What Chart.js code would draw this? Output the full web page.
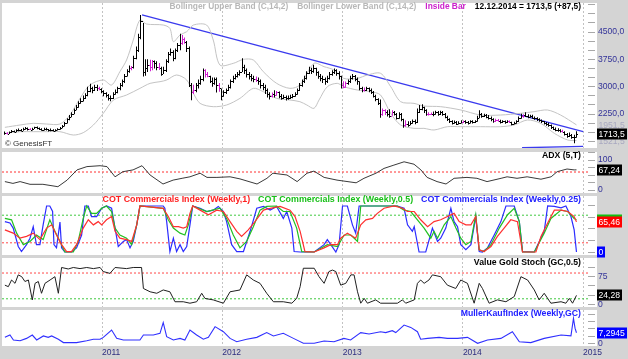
<!DOCTYPE html>
<html>
<head>
<meta charset="utf-8">
<script src="https://cdn.jsdelivr.net/npm/chart.js@4.4.1/dist/chart.umd.min.js"></script>
<style>
  body { margin: 0; background: #d4d4d4; }
  #wrap { position: relative; width: 628px; height: 359px; overflow: hidden; background: #d4d4d4; }
  #wrap canvas { position: absolute; left: 0; top: 0; }
</style>
</head>
<body>
<div id="wrap">
  <canvas id="price" width="628" height="359"></canvas>
  <canvas id="adx" width="628" height="359"></canvas>
  <canvas id="cot" width="628" height="359"></canvas>
  <canvas id="stoch" width="628" height="359"></canvas>
  <canvas id="mueller" width="628" height="359"></canvas>
</div>
<script>
// weekly bars, week 0 = 12.03.2010, last week = 12.12.2014
const startDate = Date.UTC(2010, 2, 12);
const years = [2011, 2012, 2013, 2014, 2015];

const weeklyHigh = [
  1770,1750,1770,1810,1800,1830,1850,1840,1870,1890,
  1880,1860,1870,1900,1910,1880,1860,1870,1870,1840,
  1850,1830,1830,1860,1890,1950,2030,2130,2220,2300,
  2400,2500,2600,2680,2760,2820,3000,3080,3000,3050,
  3050,3000,2960,2900,2850,2800,2760,2850,2920,3000,
  3100,3200,3350,3480,3580,3570,3850,4100,4450,4966,
  4750,3750,3750,3740,3730,3720,3700,3650,3550,3550,
  3750,3950,4050,4000,4050,4200,4450,4420,4350,4250,
  4100,3100,3050,3100,3200,3300,3500,3480,3400,3300,
  3250,3250,3250,3100,2950,2900,2950,3050,3200,3300,
  3350,3400,3450,3777,3600,3500,3400,3350,3300,3280,
  3250,3200,3100,3050,2950,2850,2840,2900,2880,2870,
  2800,2780,2760,2760,2780,2800,2850,2950,3100,3200,
  3300,3420,3550,3520,3600,3520,3420,3350,3300,3250,
  3300,3400,3450,3500,3480,3420,3300,3150,3140,3200,
  3300,3350,3320,3250,3150,3000,2980,3000,2980,2950,
  2880,2780,2680,2650,2400,2380,2350,2380,2350,2330,
  2280,2300,2280,2120,2080,2050,2060,2100,2100,2400,
  2500,2520,2450,2380,2300,2290,2320,2340,2330,2340,
  2330,2280,2200,2130,2080,2070,2060,2050,2080,2070,
  2080,2060,2080,2080,2080,2200,2350,2280,2260,2250,
  2220,2180,2130,2120,2110,2090,2080,2070,2080,2070,
  2040,2040,2080,2180,2260,2240,2300,2240,2230,2230,
  2180,2160,2130,2100,2060,2030,2010,1960,1910,1880,
  1860,1830,1820,1780,1730,1740,1700,1680,1780
];
const weeklyLow = [
  1680,1690,1700,1730,1740,1750,1780,1770,1790,1820,
  1800,1810,1800,1840,1830,1810,1790,1800,1800,1770,
  1780,1770,1770,1800,1820,1860,1910,1990,2080,2160,
  2240,2350,2420,2530,2590,2660,2740,2850,2820,2880,
  2880,2900,2820,2740,2700,2620,2600,2660,2780,2820,
  2900,3000,3100,3280,3380,3450,3500,3750,3950,4300,
  3280,3300,3400,3420,3450,3500,3450,3460,3300,3350,
  3400,3650,3850,3700,3750,3950,4000,4150,4180,3950,
  2990,2630,2800,2850,2950,3050,3150,3250,3260,3100,
  3000,3050,2840,2860,2630,2720,2800,2880,2950,3100,
  3200,3250,3300,3400,3350,3250,3200,3150,3120,3130,
  3050,2950,2900,2800,2700,2650,2700,2700,2750,2680,
  2640,2660,2620,2640,2660,2680,2720,2780,2880,3000,
  3100,3200,3350,3350,3380,3300,3220,3150,3100,3050,
  3100,3200,3300,3350,3300,3200,2950,2960,2970,3050,
  3100,3200,3150,3050,2900,2850,2870,2880,2850,2800,
  2700,2600,2500,2150,2200,2220,2180,2150,2200,2210,
  2100,2120,2050,1870,1900,1900,1940,1980,1970,2000,
  2280,2350,2280,2200,2210,2220,2190,2230,2200,2220,
  2200,2130,2060,2000,1960,1980,1950,1960,1990,2000,
  1980,1960,1990,1990,2000,2040,2130,2150,2170,2130,
  2100,2050,2010,2030,2040,1990,2000,1980,2000,2005,
  1940,1960,1980,2030,2120,2150,2170,2130,2150,2120,
  2090,2060,2040,2000,1960,1930,1900,1840,1810,1780,
  1760,1740,1745,1660,1600,1620,1570,1445,1600
];
const weeklyClose = [
  1720,1700,1750,1780,1760,1800,1820,1790,1840,1860,
  1830,1810,1850,1880,1870,1840,1820,1850,1830,1800,
  1820,1790,1810,1830,1860,1920,2000,2100,2180,2260,
  2370,2450,2560,2620,2700,2760,2880,2950,2900,2980,
  2960,2930,2880,2820,2760,2700,2680,2800,2850,2950,
  3050,3150,3300,3420,3500,3530,3800,4000,4350,4800,
  3400,3500,3600,3550,3700,3650,3550,3500,3350,3450,
  3700,3900,3950,3800,4000,4150,4200,4300,4220,4050,
  3050,2850,2900,3050,3100,3200,3450,3350,3300,3150,
  3100,3200,3050,2950,2750,2850,2900,3000,3150,3250,
  3300,3350,3400,3550,3450,3350,3300,3250,3200,3180,
  3150,3050,3000,2900,2800,2750,2800,2780,2850,2750,
  2700,2720,2680,2700,2720,2750,2800,2900,3050,3150,
  3250,3380,3450,3420,3500,3400,3300,3250,3200,3150,
  3250,3350,3400,3450,3380,3300,3050,3000,3100,3150,
  3250,3300,3200,3150,2950,2900,2920,2950,2900,2850,
  2750,2650,2550,2250,2350,2300,2250,2200,2300,2250,
  2150,2250,2100,1950,1980,1960,2000,2050,2020,2300,
  2400,2450,2350,2250,2240,2250,2250,2300,2250,2300,
  2250,2180,2100,2050,2000,2020,1980,2000,2030,2050,
  2020,2000,2050,2020,2050,2150,2250,2200,2230,2180,
  2150,2100,2050,2080,2060,2030,2050,2020,2050,2020,
  1980,2000,2050,2150,2200,2220,2200,2180,2200,2150,
  2130,2100,2080,2050,2000,1980,1950,1880,1850,1820,
  1800,1780,1760,1700,1650,1680,1620,1626,1713.5
];
const insideBarWeeks = [1, 11, 41, 55, 63, 64, 67, 77, 78, 82, 87, 88, 93, 109, 116, 118, 147, 148, 156, 164, 165, 168, 174, 184, 185, 199, 213, 214, 219, 225, 242];

// [week, value]
const upperBand = [[0,1884],[6.6,1948],[12.3,1994],[18.1,1975],[23.9,1975],[28.2,2222],[32.6,2680],[36.9,3046],[42.7,3183],[46.3,3046],[49.9,3412],[52.8,3732],[55.7,4280],[58.6,4829],[61.5,4719],[68.7,4692],[71.6,4600],[73.1,4235],[76,4418],[78.9,4509],[81.8,4692],[87.5,4692],[90.4,4280],[93.3,3594],[99.1,3640],[103.5,3750],[107.8,3732],[112.1,3412],[117.9,3091],[123.7,2954],[128,3046],[134.1,3640],[138.5,3549],[142.8,3457],[146.9,3229],[152.9,3229],[157.3,3320],[163,3366],[167.4,3000],[171.7,2588],[177.5,2542],[181.8,2469],[189.1,2451],[197.8,2360],[206.4,2222],[215.1,2222],[223.8,2268],[229.6,2314],[235.4,2360],[241.1,2222],[248,1951.5]];
const lowerBand = [[0,1719],[6.6,1765],[12.3,1765],[18.1,1765],[23.9,1765],[29.7,1673],[34,1738],[38.4,1948],[42.7,2268],[47.1,2634],[52.8,2771],[58.6,2954],[63,3091],[67.3,3137],[70.2,3183],[74.5,3320],[78.9,3183],[81.8,2817],[84.7,2542],[90.4,2451],[96.2,2497],[102,2680],[107.8,2954],[112.1,2863],[117.9,2680],[123.7,2634],[128,2588],[131,2497],[134.1,2405],[136.3,2634],[139.9,3000],[144.2,3091],[147.1,3000],[152.9,2908],[158.7,2863],[163,2771],[167.4,2268],[171.7,1948],[177.5,1856],[181.8,1856],[186.2,1811],[192,1902],[197.8,1902],[206.4,1902],[215.1,1902],[220.9,1948],[226.7,2085],[232.5,1994],[238.4,1719],[244.2,1536],[248,1521.5]];
const trendLine = [[59.5,4967],[250.9,1764]];
const supportLine = [[224.4,1325],[250.9,1360]];

const adxLine = [[0,28],[3.5,22],[6.6,28],[10.9,19],[16.5,19],[23,11],[27,33],[31.3,67],[35.6,78],[41.3,81],[44.3,78],[47.8,44],[51.2,61],[55.6,67],[59.5,81],[63,50],[68.6,20],[73,33],[76.9,39],[80.3,44],[84.7,56],[87.7,42],[92,42],[97.7,44],[102,37],[109.4,20],[113.7,39],[116.3,56],[122.4,50],[126.8,28],[131.1,56],[134.1,63],[138.5,42],[144.1,33],[152.4,24],[155.8,39],[161,56],[164.5,72],[168.8,83],[173.2,94],[177.5,86],[180.5,67],[183.2,42],[187.5,28],[191.4,20],[194.9,39],[200.5,42],[204.8,39],[209.2,28],[215.3,39],[217.9,44],[222.2,39],[226.6,44],[232.6,36],[237,44],[239.6,61],[243.9,70],[247,67],[248,67.24]];

const cotWeekly1 = [[0,48],[3.6,41],[6.5,30],[9.4,34],[12.3,41],[15.2,27],[18.1,52],[20.3,59],[22.4,37],[24.6,16],[26.8,1],[28.9,1],[31.1,16],[34,52],[36.2,70],[38.4,59],[40.5,66],[42,59],[44.1,70],[46.3,77],[47.8,45],[49.9,30],[52.8,27],[55,23],[57.2,59],[58.6,100],[68.7,95],[70.9,77],[73.1,55],[75.3,55],[77.4,52],[78.9,55],[80.3,84],[81.5,100],[84.7,91],[88.3,81],[91.9,91],[94.8,88],[97.7,66],[100.6,45],[102.7,34],[105.6,48],[108.5,66],[112.2,91],[115.1,95],[119.4,99],[123.7,91],[125.9,77],[128.1,45],[130.2,1],[134.2,0],[138.5,9],[141.4,16],[144.3,16],[145.7,30],[148.6,41],[152.2,30],[154.4,59],[156.6,70],[159.5,73],[161.6,84],[164.5,95],[168.9,100],[172.5,95],[174.7,88],[177.6,88],[180.4,70],[183.4,55],[186.2,66],[189.1,70],[192,77],[194.9,84],[197.1,66],[200,59],[202.2,59],[204.3,77],[205.8,5],[207.9,1],[210.9,12],[213.7,34],[216.6,52],[219.5,70],[222.4,66],[224.6,0],[230.4,0],[232.6,34],[235.5,63],[238.4,91],[241.3,91],[244.2,88],[247,77],[248,65.46]];
const cotWeekly05 = [[0,73],[2.9,70],[5.1,41],[8,16],[10.9,23],[13.7,37],[16.6,27],[19.5,70],[21.7,45],[24.6,16],[26,0],[29.7,0],[31.8,23],[34,73],[35.5,100],[37.6,84],[39.8,84],[42,95],[44.1,100],[46.3,88],[47.8,52],[49.9,37],[52.8,30],[55,16],[57.2,59],[58.6,100],[68.7,95],[70.9,70],[73.1,52],[76,41],[78.1,37],[79.6,59],[81.5,100],[87.6,88],[93.3,95],[96.2,73],[99.1,37],[102,9],[104.9,23],[107.8,55],[110.7,91],[113.6,99],[117.9,100],[120.8,88],[123.7,88],[126.6,52],[128.8,1],[134.2,0],[139.9,16],[144.3,12],[147.2,37],[150.1,37],[153,23],[154.4,100],[170.3,100],[173.2,91],[176.1,88],[179,70],[181.9,52],[184.8,30],[186.2,45],[187.7,30],[190.6,59],[193.5,77],[195.7,52],[197.8,30],[200,16],[202.2,23],[204.3,81],[205.8,5],[207.9,1],[210.9,16],[214.5,52],[218.1,81],[221,95],[223.2,66],[224.6,0],[229.7,0],[234,41],[236.9,73],[241.3,91],[244.2,88],[247,73],[248,70]];
const cotWeekly025 = [[0,66],[2.2,63],[3.6,52],[5.8,12],[7.2,1],[9.4,16],[10.9,30],[12.3,55],[13.7,16],[15.2,16],[16.6,59],[18.1,100],[19.5,100],[20.7,88],[21.3,16],[22.4,9],[23.9,65],[24.6,9],[26,0],[28.9,0],[31.1,9],[33.3,37],[34.7,100],[36.2,100],[37.6,77],[39.8,77],[42,95],[44.1,100],[46.3,95],[47.8,52],[49.2,12],[51.4,23],[52.8,27],[54.3,9],[55.7,23],[57.2,59],[58.6,100],[68.7,100],[69.4,95],[70.2,66],[71.6,1],[73.1,30],[74.5,1],[76,16],[77.4,1],[78.9,12],[80.3,59],[81.5,100],[84.7,95],[87.6,88],[90.4,91],[92.6,99],[94.8,88],[96.2,66],[98.4,16],[100.6,1],[103.5,1],[106.4,45],[109.3,95],[112.2,99],[115.1,91],[117.9,99],[120.8,73],[122.3,88],[124.5,52],[125.5,1],[128.1,0],[134.2,0],[138.5,16],[139.9,27],[141.4,16],[143.6,0],[145,16],[146.5,100],[148.6,100],[150.8,59],[152.2,41],[153.7,100],[170.3,100],[173.2,95],[174.7,59],[176.8,45],[177.6,55],[179.7,0],[182.6,0],[185.5,52],[187.7,23],[189.1,30],[191.3,52],[193.5,95],[194.9,66],[196.4,55],[197.8,16],[200,5],[202.2,16],[204.3,77],[205.8,1],[207.2,0],[209.4,9],[212.3,37],[215.2,66],[217.4,100],[221,100],[223.2,66],[224.6,1],[229.7,0],[234,45],[235.5,100],[238.4,99],[241.3,96],[243.4,100],[245.6,77],[247,48],[248,0]];

const stochLine = [[0,52],[1.5,48],[2.9,66],[4.4,57],[5.8,80],[7.3,75],[8.7,62],[10.2,66],[11.9,12],[13.1,57],[14.5,62],[15.9,30],[17.4,57],[19.6,66],[21.7,75],[23.2,30],[24.6,100],[27.5,96],[29.7,100],[32.6,97],[35.5,100],[38.4,97],[41.3,100],[42.7,89],[45.6,84],[47.8,100],[52.8,97],[55.7,100],[59.3,100],[60.1,43],[63,34],[65.9,30],[68.7,39],[71.6,34],[73.8,7],[77.4,7],[80.3,3],[83.2,7],[85.4,30],[86.8,16],[90.4,12],[94.8,3],[97.7,34],[102,39],[104.9,80],[107.8,66],[110.7,57],[113.6,30],[116.5,7],[120.8,7],[124.5,3],[126.6,16],[128.1,48],[129.5,98],[134.2,98],[136.3,75],[138.5,57],[140.6,89],[142.1,93],[143.6,89],[145.7,52],[147.9,57],[150.1,80],[151.5,80],[153,34],[154.4,3],[155.9,16],[157.3,3],[160.9,12],[163,3],[170.3,3],[172.5,12],[173.9,3],[177.6,12],[179,57],[180.4,66],[181.9,57],[184,66],[185.5,80],[189.1,75],[192,52],[195.6,43],[197.8,66],[200.7,57],[203.6,3],[205.8,57],[207.2,43],[210.1,3],[213.7,12],[217.4,7],[221,21],[223.9,75],[226.8,66],[229.7,39],[231.8,12],[234,30],[236.9,3],[241.3,7],[243.4,3],[244.9,16],[246.3,3],[248,24.28]];

const muellerLine = [[0,4.1],[2.2,5.7],[3.7,2.3],[6.6,1.8],[9.4,3.4],[11.9,5.7],[13.8,2.3],[16.7,5.1],[18.8,4.1],[20.3,5.1],[23.2,2.8],[25.4,0.5],[31.1,0.5],[35.5,1.8],[38.4,2.8],[41.3,2.8],[42.7,4.1],[46.3,9.2],[48.5,3.4],[51.4,2.3],[58.6,2.3],[60.1,5.7],[64.4,5.7],[67.3,6.9],[68.7,14.3],[70.2,4.6],[73.1,2.3],[76,3.4],[78.1,2.3],[80.3,9.2],[83.2,5.7],[86.1,2.8],[88.3,4.1],[91.2,11.5],[94.8,8],[97.7,3.4],[100.6,1.1],[104.9,2.8],[109.3,4.1],[113.6,7.4],[116.5,5.1],[120.8,6.9],[125.2,3.4],[129.5,0],[134.2,0],[138.5,1.6],[142.8,1.1],[147.1,3.4],[150,2.3],[154.4,7.4],[158,6.4],[163,8],[165.2,7.4],[168.1,8.7],[169.6,7.4],[173.2,12.6],[176.1,11],[179,8],[180.4,2.8],[183.4,3.4],[188.4,4.1],[192,3.4],[196.4,3.4],[200.7,4.1],[205.1,0],[209.4,2.3],[215.2,3.4],[220.2,8],[223.2,1.1],[228.2,0.5],[234,3.4],[241.3,5.7],[245.6,5.1],[246.7,17.2],[247.4,10.3],[248,7.2945]];

const adxLevels = [60];
const cotLevels = [80, 20];
const stochLevels = [85, 15];

const priceTicks = [1500,1750,2000,2250,2500,2750,3000,3250,3500,3750,4000,4250,4500,4750,5000,5250];
const priceLabels = [2250, 3000, 3750, 4500];
const adxTicks = [0, 25, 50, 75, 100, 125];
const adxLabels = [0, 100];
const cotTicks = [0, 25, 50, 75, 100];
const stochTicks = [0, 25, 50, 75, 100];
const stochLabels = [0, 75];
const muellerTicks = [0, 5, 10, 15, 20];
const muellerLabels = [0];

const FONT = "'Liberation Sans', Arial, sans-serif";
const X_MIN = -1.25, X_MAX = 253.0;
const RED = '#ff3030', GREEN = '#22c022', BLUE = '#2c2cff';

Chart.defaults.font.family = FONT;
Chart.defaults.font.size = 9;
Chart.defaults.animation = false;
Chart.defaults.events = [];
Chart.defaults.plugins.legend.display = false;
Chart.defaults.plugins.tooltip.enabled = false;

const yearWeeks = years.map(y => (Date.UTC(y, 0, 1) - startDate) / (7 * 86400000));

function comma(v, d) { return v.toFixed(d).replace('.', ','); }
function last(arr) { return arr[arr.length - 1][1]; }

function xAxis(showLabels) {
  return {
    type: 'linear', min: X_MIN, max: X_MAX, offset: false,
    afterBuildTicks: s => { s.ticks = yearWeeks.map(v => ({value: v})); },
    afterFit: s => { s.height = showLabels ? 13 : 0; s.paddingLeft = 0; s.paddingRight = 0; },
    grid: {color: '#c2c2c2', drawTicks: false, offset: false},
    border: {display: false, dash: [2, 2]},
    ticks: {display: showLabels, align: 'start', padding: 2, color: '#2e2e80', font: {size: 8.5},
      maxRotation: 0, autoSkip: false, callback: (v, i) => String(years[i])}
  };
}

function yAxis(min, max, ticks, labels, fmt) {
  return {
    position: 'right', min: min, max: max,
    afterBuildTicks: s => { s.ticks = ticks.map(v => ({value: v})); },
    afterFit: s => { s.width = 40; s.paddingTop = 0; s.paddingBottom = 0; },
    grid: {drawOnChartArea: false, drawTicks: true, tickLength: 7, color: '#a8a8a8'},
    border: {display: false},
    ticks: {autoSkip: false, padding: 3, color: '#333399', font: {size: 8.6},
      callback: v => labels.includes(v) ? fmt(v) : ''}
  };
}

function lineSet(points, color, width, dash, tension) {
  return {type: 'line', data: points, borderColor: color, borderWidth: width, borderDash: dash || [],
    pointRadius: 0, tension: tension || 0, fill: false};
}
function levelSets(levels, colors) {
  return levels.map((v, i) => lineSet([[X_MIN, v], [X_MAX, v]], colors[i], 1, [2, 2]));
}

// white panel behind each plot
const panelBg = {
  id: 'panelBg',
  beforeDraw(chart) {
    const a = chart.chartArea, ctx = chart.ctx;
    ctx.save();
    ctx.fillStyle = '#ffffff';
    ctx.fillRect(2, a.top, a.right + 9 - 2, a.bottom - a.top);
    ctx.restore();
  }
};

// titles inside the panels, chained from the right
const panelTexts = {
  id: 'panelTexts',
  afterDraw(chart, args, opts) {
    const ctx = chart.ctx;
    ctx.save();
    ctx.textBaseline = 'middle';
    (opts.rows || []).forEach(row => {
      ctx.font = 'bold ' + (row.size || 8.7) + 'px ' + FONT;
      let x = row.right;
      row.items.slice().reverse().forEach(it => {
        ctx.fillStyle = it.color;
        ctx.textAlign = 'right';
        ctx.fillText(it.text, x, row.y);
        x -= ctx.measureText(it.text).width + (row.gap || 8);
      });
    });
    (opts.notes || []).forEach(n => {
      ctx.font = n.font;
      ctx.fillStyle = n.color;
      ctx.textAlign = 'left';
      ctx.fillText(n.text, n.x, n.y);
    });
    ctx.restore();
  }
};

// last value boxes on the right axis
const valueBoxes = {
  id: 'valueBoxes',
  afterDraw(chart, args, opts) {
    const ctx = chart.ctx, y = chart.scales.y, x0 = chart.chartArea.right + 9;
    ctx.save();
    ctx.font = '8.6px ' + FONT;
    ctx.textBaseline = 'middle';
    ctx.textAlign = 'left';
    (opts.items || []).forEach(b => {
      const py = Math.round(y.getPixelForValue(b.value));
      if (b.bg) {
        ctx.fillStyle = b.bg;
        ctx.fillRect(x0, py - 5.5, Math.ceil(ctx.measureText(b.text).width) + 3, 11);
      }
      ctx.fillStyle = b.fg;
      ctx.fillText(b.text, x0 + 1.5, py + 0.5);
    });
    ctx.restore();
  }
};

// snap the 1px bars to whole pixels and add open / close ticks
const ohlcTicks = {
  id: 'ohlcTicks',
  afterDatasetsUpdate(chart) {
    chart.getDatasetMeta(0).data.forEach(el => { el.x = Math.floor(el.x) + 0.5; });
  },
  afterDatasetsDraw(chart) {
    const meta = chart.getDatasetMeta(0), y = chart.scales.y, ctx = chart.ctx;
    ctx.save();
    meta.data.forEach((el, i) => {
      ctx.fillStyle = barColors[i];
      ctx.fillRect(el.x + 0.5, Math.round(y.getPixelForValue(weeklyClose[i])), 1, 1);
      if (i > 0) ctx.fillRect(el.x - 1.5, Math.round(y.getPixelForValue(weeklyClose[i - 1])), 1, 1);
    });
    ctx.restore();
  }
};

function baseOptions(top, bottom, scales, plugins) {
  return {
    responsive: false, maintainAspectRatio: false, devicePixelRatio: 1,
    layout: {padding: {left: 2, right: 0, top: top, bottom: bottom}},
    scales: scales,
    plugins: plugins
  };
}

const priceBars = weeklyHigh.map((h, i) => ({x: i, y: [weeklyLow[i], h]}));
const barColors = weeklyHigh.map((h, i) => insideBarWeeks.includes(i) ? '#d020d0' : '#000000');
const lastClose = weeklyClose[weeklyClose.length - 1];
const prevClose = weeklyClose[weeklyClose.length - 2];

new Chart(document.getElementById('price'), {
  type: 'bar',
  data: {datasets: [
    {type: 'bar', data: priceBars, backgroundColor: barColors, barThickness: 1, inflateAmount: 0, borderWidth: 0},
    lineSet(upperBand, '#c4c4c4', 1, null, 0.3),
    lineSet(lowerBand, '#c4c4c4', 1, null, 0.3),
    lineSet(trendLine, '#3a3aee', 1.3),
    lineSet(supportLine, '#3a3aee', 1.3)
  ]},
  options: baseOptions(3, 359 - 148, {
    x: xAxis(false),
    y: yAxis(1317, 5296, priceTicks, priceLabels, v => comma(v, 1))
  }, {
    panelTexts: {
      rows: [{y: 7, right: 581, size: 8.4, gap: 9, items: [
        {text: 'Bollinger Upper Band (C,14,2)', color: '#b8b8b8'},
        {text: 'Bollinger Lower Band (C,14,2)', color: '#b8b8b8'},
        {text: 'Inside Bar', color: '#cc22cc'},
        {text: '12.12.2014 = ' + comma(lastClose, 1) + ' (+' + comma(lastClose - prevClose, 1) + ')', color: '#000000'}
      ]}],
      notes: [{text: '\u00a9 GenesisFT', x: 5, y: 144, font: '8px ' + FONT, color: '#303030'}]
    },
    valueBoxes: {items: [
      {value: last(upperBand), text: comma(last(upperBand), 1), fg: '#a8a8c0'},
      {value: last(lowerBand), text: comma(last(lowerBand), 1), fg: '#a8a8c0'},
      {value: lastClose, text: comma(lastClose, 1), bg: '#000000', fg: '#ffffff'}
    ]}
  }),
  plugins: [panelBg, ohlcTicks, valueBoxes, panelTexts]
});

new Chart(document.getElementById('adx'), {
  type: 'line',
  data: {datasets: [lineSet(adxLine, '#3a3a3a', 1)].concat(levelSets(adxLevels, [RED]))},
  options: baseOptions(152, 359 - 193, {
    x: xAxis(false),
    y: yAxis(-10, 126.7, adxTicks, adxLabels, v => String(v))
  }, {
    panelTexts: {rows: [{y: 156, right: 581, items: [{text: 'ADX (5,T)', color: '#000000'}]}]},
    valueBoxes: {items: [{value: last(adxLine), text: comma(last(adxLine), 2), bg: '#000000', fg: '#ffffff'}]}
  }),
  plugins: [panelBg, valueBoxes, panelTexts]
});

new Chart(document.getElementById('cot'), {
  type: 'line',
  data: {datasets: [
    lineSet(cotWeekly1, RED, 1.2),
    lineSet(cotWeekly05, GREEN, 1.2),
    lineSet(cotWeekly025, BLUE, 1.2)
  ].concat(levelSets(cotLevels, ['#40c840', '#ff4848']))},
  options: baseOptions(196, 359 - 255, {
    x: xAxis(false),
    y: yAxis(-6.5, 121.7, cotTicks, [], v => String(v))
  }, {
    panelTexts: {rows: [{y: 200, right: 581, size: 8.85, gap: 8, items: [
      {text: 'COT Commercials Index (Weekly,1)', color: '#ff2020'},
      {text: 'COT Commercials Index (Weekly,0.5)', color: '#18c018'},
      {text: 'COT Commercials Index (Weekly,0.25)', color: '#2020ff'}
    ]}]},
    valueBoxes: {items: [
      {value: last(cotWeekly05), text: comma(last(cotWeekly05), 2), bg: '#10c010', fg: '#ffffff'},
      {value: last(cotWeekly1), text: comma(last(cotWeekly1), 2), bg: '#ff0000', fg: '#ffffff'},
      {value: last(cotWeekly025), text: String(last(cotWeekly025)), bg: '#0000ff', fg: '#ffffff'}
    ]}
  }),
  plugins: [panelBg, valueBoxes, panelTexts]
});

new Chart(document.getElementById('stoch'), {
  type: 'line',
  data: {datasets: [lineSet(stochLine, '#202020', 1)].concat(levelSets(stochLevels, ['#ff4848', '#40c840']))},
  options: baseOptions(258, 359 - 307, {
    x: xAxis(false),
    y: yAxis(-7.3, 125.8, stochTicks, stochLabels, v => String(v))
  }, {
    panelTexts: {rows: [{y: 263, right: 581, items: [{text: 'Value Gold Stoch (GC,0.5)', color: '#000000'}]}]},
    valueBoxes: {items: [{value: last(stochLine), text: comma(last(stochLine), 2), bg: '#000000', fg: '#ffffff'}]}
  }),
  plugins: [panelBg, valueBoxes, panelTexts]
});

new Chart(document.getElementById('mueller'), {
  type: 'line',
  data: {datasets: [lineSet(muellerLine, '#3030ff', 1.1)]},
  options: baseOptions(310, 0, {
    x: xAxis(true),
    y: yAxis(-1.86, 23, muellerTicks, muellerLabels, v => String(v))
  }, {
    panelTexts: {rows: [{y: 314, right: 581, items: [{text: 'MullerKaufIndex (Weekly,GC)', color: '#2020ff'}]}]},
    valueBoxes: {items: [{value: last(muellerLine), text: comma(last(muellerLine), 4), bg: '#0000ff', fg: '#ffffff'}]}
  }),
  plugins: [panelBg, valueBoxes, panelTexts]
});
</script>
</body>
</html>
